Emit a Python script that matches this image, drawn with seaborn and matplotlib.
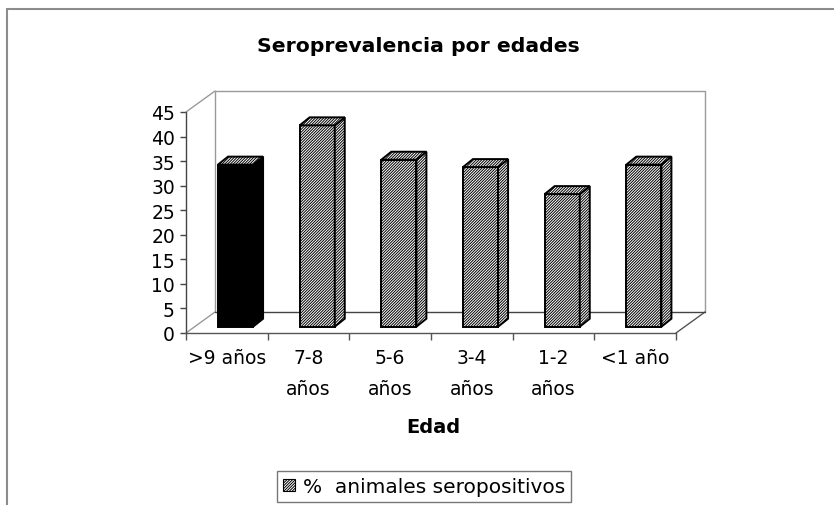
import pandas as pd
import seaborn as sns
import matplotlib.pyplot as plt
from matplotlib.patches import Polygon, Patch
from matplotlib.lines import Line2D
from matplotlib.transforms import ScaledTranslation, IdentityTransform

# -------------------------------
# DATA
# -------------------------------
categories = [">9 años", "7-8\naños", "5-6\naños", "3-4\naños", "1-2\naños", "<1 año"]
seroprev = [33, 41, 34, 32.5, 27, 33]
bar_colors = ["black", "white", "white", "white", "white", "white"]
y_ticks = list(range(0, 50, 5))
legend_label = "%  animales seropositivos"

sns.set_theme(style="white")
plt.rcParams["font.family"] = ["DejaVu Sans"]
plt.rcParams["text.color"] = "black"
plt.rcParams["hatch.linewidth"] = 0.7
plt.rcParams["hatch.color"] = "black"
HATCH = "/" * 12

DPI = 100
W, H = 834, 506
fig = plt.figure(figsize=(W / DPI, H / DPI), dpi=DPI)
fig.patch.set_facecolor("white")


def box(x0, y0, x1, y1):
    # pixel box (top-left origin) -> figure fraction rect
    return [x0 / W, 1 - y1 / H, (x1 - x0) / W, (y1 - y0) / H]


# front plane of the pseudo-3D chart
ax = fig.add_axes(box(186, 113, 676, 334))
ax.set_facecolor("none")

df = pd.DataFrame({"edad": categories, "pct": seroprev})
sns.barplot(data=df, x="edad", y="pct", order=categories, ax=ax,
            width=0.43, color="white", saturation=1,
            edgecolor="black", linewidth=1.4, zorder=3)

ax.set_xlim(-0.5, len(categories) - 0.5)
ax.set_ylim(0, 45)
ax.set_yticks(y_ticks)
ax.set_xlabel("")
ax.set_ylabel("")

# depth of the floor and of each bar (pixels)
DX, DY = 29, 21
FX, FY = 0.3 * DX, 0.3 * DY          # front face of bars
BX, BY = FX + 10, FY + 8             # back face of bars

fig.canvas.draw()
shift = ScaledTranslation(FX / DPI, FY / DPI, fig.dpi_scale_trans)

for p, col in zip(ax.patches, bar_colors):
    x, w, h = p.get_x(), p.get_width(), p.get_height()
    (xl, yb), (xr, yt) = ax.transData.transform([(x, 0), (x + w, h)])
    p.set_transform(ax.transData + shift)
    p.set_clip_on(False)
    hatch = None if col == "black" else HATCH
    p.set_facecolor(col)
    p.set_hatch(hatch)
    side = [(xr + FX, yb + FY), (xr + BX, yb + BY), (xr + BX, yt + BY), (xr + FX, yt + FY)]
    top = [(xl + FX, yt + FY), (xl + BX, yt + BY), (xr + BX, yt + BY), (xr + FX, yt + FY)]
    for verts, fc, ht in [(side, col, hatch), (top, "white", HATCH)]:
        ax.add_patch(Polygon(verts, closed=True, facecolor=fc, edgecolor="black",
                             hatch=ht, linewidth=1.4, transform=IdentityTransform(),
                             clip_on=False, zorder=3))

# walls and floor
(ax0, ay0), (ax1, ay1) = ax.transAxes.transform([(0, 0), (1, 1)])
wall_col = "#9a9a9a"
wall_lines = [
    ([ax0 + DX, ax0 + DX, ax1 + DX, ax1 + DX], [ay0 + DY, ay1 + DY, ay1 + DY, ay0 + DY], wall_col),
    ([ax0, ax0 + DX], [ay1, ay1 + DY], wall_col),
    ([ax0, ax0 + DX], [ay0, ay0 + DY], wall_col),
    ([ax1, ax1 + DX], [ay0, ay0 + DY], "#555555"),
    ([ax0 + DX, ax1 + DX], [ay0 + DY, ay0 + DY], "#444444"),
]
for xs, ys, c in wall_lines:
    ax.add_line(Line2D(xs, ys, color=c, linewidth=1.0, transform=IdentityTransform(),
                       clip_on=False, zorder=1))

for s in ["top", "right"]:
    ax.spines[s].set_visible(False)
ax.spines["left"].set_color("#444444")
ax.spines["bottom"].set_color("#555555")
ax.spines["left"].set_linewidth(1.0)
ax.spines["bottom"].set_linewidth(1.0)

ax.set_xticks([i - 0.5 for i in range(len(categories) + 1)], minor=True)
ax.tick_params(axis="x", which="minor", bottom=True, length=5, width=1, color="#555555")
ax.tick_params(axis="x", which="major", bottom=True, length=0, pad=11, labelsize=13.5,
               labelcolor="black")
ax.tick_params(axis="y", left=True, length=4, width=1, color="#444444", pad=4,
               labelsize=13.5, labelcolor="black")
for lab in ax.get_xticklabels():
    lab.set_linespacing(1.8)

# titles
fig.text(418 / W, 1 - 47 / H, "Seroprevalencia por edades", ha="center", va="center",
         fontsize=14.7, fontweight="bold", color="black")
fig.text(433 / W, 1 - 428 / H, "Edad", ha="center", va="center",
         fontsize=14, fontweight="bold", color="black")

# legend
leg = fig.legend(handles=[Patch(facecolor="white", edgecolor="black", hatch=HATCH,
                                linewidth=0.8)],
                 labels=[legend_label], loc="center",
                 bbox_to_anchor=(424 / W, 1 - 487.5 / H), frameon=True, fancybox=False,
                 fontsize=14.5, handlelength=0.6, handleheight=0.6, handletextpad=0.4,
                 borderpad=0.3, borderaxespad=0)
leg.get_frame().set_edgecolor("#555555")
leg.get_frame().set_linewidth(1.0)
for t in leg.get_texts():
    t.set_color("black")

# outer frame (left and top edges)
frame_col = "#8c8c8c"
fig.add_artist(Line2D([7 / W, 7 / W], [0, 1 - 10 / H], color=frame_col, linewidth=1.5,
                      transform=fig.transFigure))
fig.add_artist(Line2D([7 / W, 1], [1 - 10 / H, 1 - 10 / H], color=frame_col, linewidth=1.5,
                      transform=fig.transFigure))

fig.savefig("out.png", dpi=DPI)
